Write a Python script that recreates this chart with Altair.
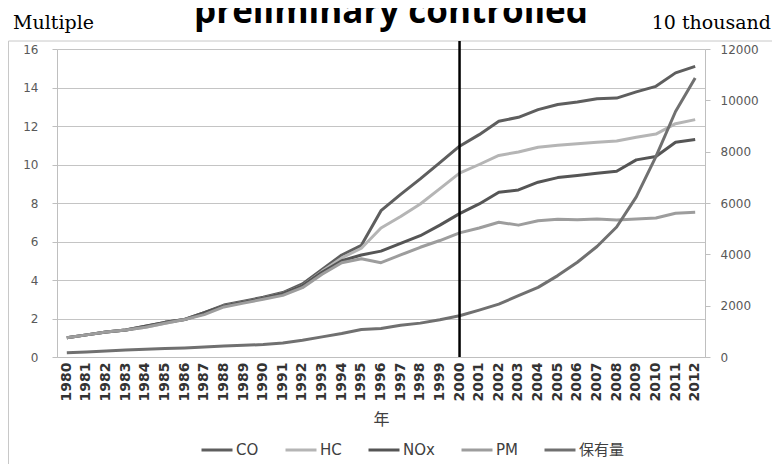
import altair as alt
import pandas as pd

years = [1980, 1981, 1982, 1983, 1984, 1985, 1986, 1987, 1988, 1989, 1990,
         1991, 1992, 1993, 1994, 1995, 1996, 1997, 1998, 1999, 2000, 2001,
         2002, 2003, 2004, 2005, 2006, 2007, 2008, 2009, 2010, 2011, 2012]

co = [1.0, 1.15, 1.3, 1.4, 1.6, 1.8, 1.95, 2.3, 2.7, 2.9, 3.1,
      3.35, 3.8, 4.55, 5.3, 5.8, 7.6, 8.45, 9.25, 10.1, 10.95, 11.55,
      12.25, 12.45, 12.85, 13.12, 13.25, 13.42, 13.45, 13.77, 14.06, 14.76, 15.1]
hc = [1.0, 1.15, 1.3, 1.4, 1.55, 1.75, 1.95, 2.25, 2.65, 2.85, 3.05,
      3.3, 3.7, 4.45, 5.15, 5.65, 6.7, 7.3, 7.95, 8.75, 9.55, 10.0,
      10.47, 10.65, 10.9, 11.0, 11.08, 11.16, 11.22, 11.42, 11.58, 12.12, 12.33]
nox = [1.0, 1.15, 1.3, 1.4, 1.6, 1.8, 1.95, 2.3, 2.65, 2.85, 3.05,
       3.3, 3.7, 4.4, 5.0, 5.3, 5.5, 5.9, 6.3, 6.85, 7.45, 7.95,
       8.56, 8.68, 9.08, 9.32, 9.43, 9.55, 9.65, 10.24, 10.42, 11.16, 11.3]
pm = [1.0, 1.15, 1.3, 1.4, 1.55, 1.75, 1.95, 2.2, 2.6, 2.8, 3.0,
      3.2, 3.6, 4.3, 4.9, 5.1, 4.9, 5.3, 5.7, 6.05, 6.45, 6.7,
      7.0, 6.85, 7.08, 7.16, 7.13, 7.17, 7.12, 7.17, 7.22, 7.47, 7.52]
ownership = [170, 196, 235, 274, 300, 327, 353, 392, 431, 457, 484,
             549, 653, 784, 915, 1072, 1110, 1240, 1320, 1450, 1605, 1827,
             2062, 2388, 2714, 3171, 3693, 4306, 5063, 6238, 7804, 9566, 10870]

series_names = ["CO", "HC", "NOx", "PM", "保有量"]
series_colors = ["#5e5e5e", "#b5b5b5", "#555555", "#9d9d9d", "#707070"]
left_ticks = [0, 2, 4, 6, 8, 10, 12, 14, 16]
right_ticks = [0, 2000, 4000, 6000, 8000, 10000, 12000]

rows = []
for name, vals in zip(series_names[:4], [co, hc, nox, pm]):
    for y, v in zip(years, vals):
        rows.append({"year": y, "series": name, "value": v})
pol_df = pd.DataFrame(rows)
own_df = pd.DataFrame({"year": years, "series": "保有量", "own": ownership})

W, H = 648, 308
color_scale = alt.Scale(domain=series_names, range=series_colors)
legend = alt.Legend(orient="none", legendX=143, legendY=384, direction="horizontal",
                    title=None, symbolType="stroke", symbolSize=961, symbolStrokeWidth=3,
                    labelFont="DejaVu Sans, Noto Sans CJK SC", labelFontSize=15,
                    labelColor="#404040", labelOffset=2, columnPadding=20)

x_enc = alt.X("year:O", axis=alt.Axis(
    title="年", labelAngle=-90, labelFont="DejaVu Sans", labelFontWeight="bold",
    labelFontSize=14, labelColor="#333333", labelPadding=5, ticks=False,
    domainColor="#bfbfbf", titleFont="Noto Sans CJK SC", titleFontSize=16,
    titleFontWeight="normal", titleColor="#404040", titlePadding=11, grid=False))

pol = alt.Chart(pol_df).mark_line(strokeWidth=3, strokeJoin="round").encode(
    x=x_enc,
    y=alt.Y("value:Q", scale=alt.Scale(domain=[0, 16], nice=False),
            axis=alt.Axis(title=None, values=left_ticks, grid=True, gridColor="#c4c4c4",
                          domainColor="#bfbfbf", tickColor="#bfbfbf", tickSize=5,
                          labelColor="#595959", labelFont="DejaVu Sans", labelFontSize=12,
                          labelPadding=14)),
    color=alt.Color("series:N", scale=color_scale, legend=legend),
)

own = alt.Chart(own_df).mark_line(strokeWidth=3, strokeJoin="round").encode(
    x=alt.X("year:O"),
    y=alt.Y("own:Q", scale=alt.Scale(domain=[0, 12000], nice=False),
            axis=alt.Axis(title=None, orient="right", values=right_ticks, grid=False,
                          format="d",
                          domainColor="#bfbfbf", tickColor="#bfbfbf", tickSize=5,
                          labelColor="#595959", labelFont="DejaVu Sans", labelFontSize=12,
                          labelPadding=10)),
    color=alt.Color("series:N", scale=color_scale, legend=legend),
)

vline = alt.Chart(pd.DataFrame({"year": [2000]})).mark_rule(color="black", strokeWidth=2.5).encode(
    x="year:O", y=alt.value(-8), y2=alt.value(H))

one = pd.DataFrame({"a": [0]})
border_top = alt.Chart(one).mark_rule(color="#c8c8c8", strokeWidth=1).encode(
    x=alt.value(-48.5), x2=alt.value(720), y=alt.value(-8))
border_left = alt.Chart(one).mark_rule(color="#c8c8c8", strokeWidth=1).encode(
    x=alt.value(-48.5), y=alt.value(-8), y2=alt.value(420))

t_left = alt.Chart(pd.DataFrame({"t": ["Multiple"]})).mark_text(
    align="left", baseline="alphabetic", font="DejaVu Serif", fontSize=19, color="black").encode(
    text="t:N", x=alt.value(-44), y=alt.value(-20))
t_right = alt.Chart(pd.DataFrame({"t": ["10 thousand"]})).mark_text(
    align="right", baseline="alphabetic", font="DejaVu Serif", fontSize=19, color="black").encode(
    text="t:N", x=alt.value(714), y=alt.value(-20))
t_title = alt.Chart(pd.DataFrame({"t": ["preliminary controlled"]})).mark_text(
    align="center", baseline="alphabetic", font="Open Sans", fontWeight="bold", fontSize=35,
    color="black").encode(text="t:N", x=alt.value(334), y=alt.value(-26))

chart = alt.layer(border_top, border_left, pol, own, vline, t_left, t_right, t_title).resolve_scale(
    y="independent"
).properties(
    width=W, height=H,
    autosize=alt.AutoSizeParams(type="none"),
    padding={"left": 49, "top": 41, "right": 67, "bottom": 107},
).configure_view(stroke=None)

chart.save("out.html", embed_options={"renderer": "svg", "actions": False})
